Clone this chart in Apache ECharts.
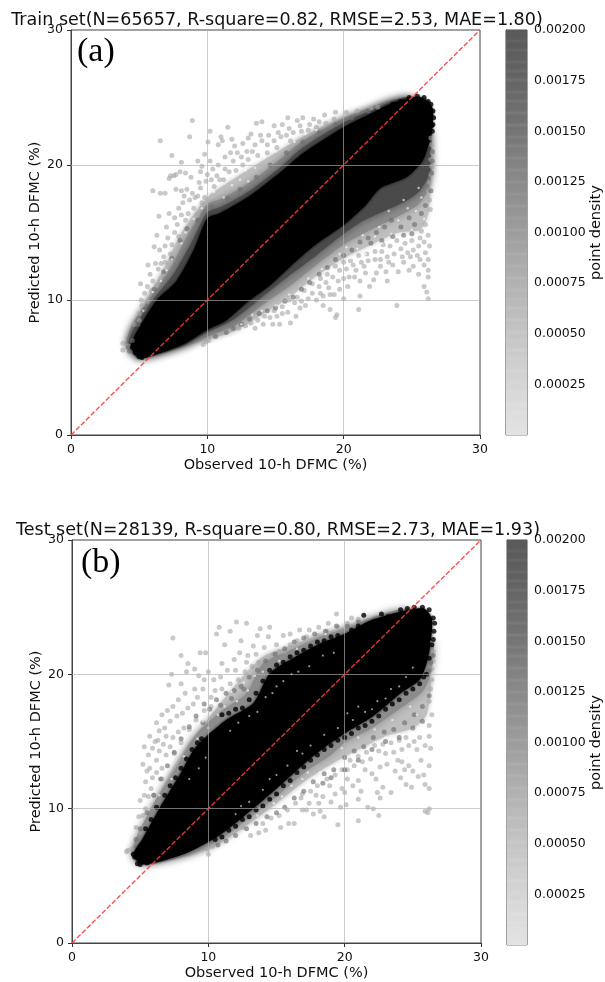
<!DOCTYPE html>
<html><head><meta charset="utf-8">
<style>html,body{margin:0;padding:0;background:#fff}#c{width:605px;height:982px}</style>
<script src="https://cdn.jsdelivr.net/npm/echarts@6/dist/echarts.min.js"></script></head>
<body><div id="c"></div>
<script>
const axisTicks=[0,10,20,30];
const colorbarTicks=[0.00025,0.0005,0.00075,0.001,0.00125,0.0015,0.00175,0.002];
const identityLine=[[0,0],[30,30]];
const colorbarGrays=[226,226,225,224,224,223,222,223,220,220,222,218,217,216,218,214,213,214,212,211,210,213,208,207,206,207,204,203,206,201,200,201,198,197,200,195,194,192,196,190,189,188,192,186,185,186,182,181,185,179,178,177,181,175,173,172,176,170,169,167,172,165,163,162,166,160,158,157,162,155,154,153,157,151,149,148,153,146,145,143,148,141,140,139,144,137,136,135,140,133,131,130,136,128,126,125,131,123,121,127,119,118,116,124,114,113,112,120,111,110,109,116,107,106,112,104,103,102,110,101,99,106,98,97,104,96,95,94,101,93,92,98,91,90,90];

const trainBlack=[[4.4,6.6],[5,5.7],[6,5.9],[8.2,6.7],[10,7.8],[11.4,8.5],[13,9.9],[14.6,11.1],[16.1,12.5],[17.8,14],[20,15.55],[21.5,16.9],[22.7,18.3],[24.6,19.1],[25.75,20.25],[26.1,21.1],[26.45,22.35],[26.55,24.1],[26.1,24.8],[25.4,25.05],[23.6,24.6],[21.96,23.8],[20,22.8],[17.07,20.9],[15.3,19.4],[13.1,17.7],[10.9,16.4],[10,16.05],[9,13.7],[7.7,11.35],[6.3,10],[4.8,7.6]];
const trainDark=[[4.2,6.6],[5,5.7],[8.2,6.6],[10,7.6],[12,8.6],[14,10.2],[16,11.8],[18,13.3],[20,14.9],[21.5,15.9],[23,16.6],[24.5,17.3],[25.6,18.1],[26.3,19.4],[26.4,20.8],[26.4,22.5],[25,25],[23.6,24.75],[22,24.05],[20,23.15],[17,21.3],[15.3,19.8],[13.1,18.1],[11,16.9],[10,16.5],[8.8,14.2],[7.5,11.9],[6,10],[4.6,7.9]];
const trainMid=[[4.1,6.6],[5,5.7],[8.2,6.5],[10,7.3],[12,8.1],[14,9.6],[16,11],[18,12.6],[20,14.1],[22,15.2],[24,16.2],[25.5,17.1],[26.3,18.4],[26.4,20.8],[25,24.8],[23.6,24.85],[22,24.25],[20,23.45],[17,21.8],[15.3,20.4],[13.1,18.7],[11,17.5],[10,17.1],[8.5,14.7],[7.2,12.2],[5.7,10],[4.4,8]];
const trainLight=[[4,6.6],[5,5.7],[8.2,6.5],[10,7.05],[12,7.7],[14,8.9],[16,10.2],[18,11.8],[20,13.1],[22,14.1],[24,15],[25.6,15.2],[26.2,16.4],[26.3,19],[25,24.8],[23.6,24.85],[22,24.3],[20,23.55],[17,22.1],[15,20.9],[12,19],[10,17.6],[8,14.8],[7,12.7],[5.5,9.9],[4.2,7.4]];
const trainLightDots=[[8.9,23.3],[6.55,21.8],[8.7,22.1],[11.5,22.8],[10.2,22.5],[7.4,20.7],[8.1,20.2],[9.8,20.8],[10.05,21.7],[6,18.1],[6.55,17.9],[6.9,17.9],[7.3,19.2],[7.55,19.2],[7.7,19.3],[7.2,19],[8,19.5],[8.4,19.4],[8.8,19.1],[9.5,19.5],[9.6,19.9],[9.3,20.3],[10.2,20.3],[7.7,18.2],[8.1,18.1],[8.5,18.2],[8.9,17.9],[9.3,17.7],[9.5,18.3],[9.9,18.8],[10.7,19.2],[11.3,19.7],[11.9,20.3],[10.8,21.5],[11.1,21.8],[11,22.1],[11.8,21.9],[12,21.4],[12.6,21.6],[13,22],[13.2,22.3],[13.6,23.1],[14,23.2],[14.9,22.9],[15.5,23],[15.9,23.5],[16.6,23.3],[17,23.5],[17.8,23.4],[18.6,23.7],[19.4,23.9],[20.2,23.9],[21,24],[22,24.2],[22.5,24.3],[12.5,20.6],[13.3,21],[14,21.8],[14.5,22.2],[15.2,22.4],[16,22.7],[16.8,22.9],[17.5,23],[18.2,23.2],[6.45,16.2],[6.3,14.8],[7,15.4],[6.1,13.95],[6.5,13.7],[5.65,12.6],[6.6,12.7],[5.8,11.9],[5.1,11.2],[5.15,10],[5,9],[4.65,8.2],[3.8,6.8],[3.8,6.3],[4.2,6.6],[7.2,16.4],[7.6,16.1],[7.9,16.8],[8.2,17.2],[7.1,14.6],[7.6,15],[7.8,15.6],[8.6,16.4],[9,16.8],[9.3,16.3],[6.9,14],[6.4,12.3],[6,11.4],[5.6,11],[5.4,10.5],[5.2,9.6],[9.6,17.2],[9.8,17.6],[10.5,18.4],[11.2,18.9],[12.1,19.6],[13,20.4],
[8.3,17.7],[8.7,17.4],[9.1,17.6],[9.4,18.7],[10,19.3],[10.4,19.7],[10.8,20],[11.3,20.6],[11.7,20.9],[12.2,20.9],[12.9,21],[13.5,21.5],[13.9,22.2],[14.4,21.5],[14.9,21.8],[15.4,22.1],[15.8,22.2],[16.3,22.4],[16.9,22.5],[17.4,22.6],[18,22.8],[18.7,23.1],[19.3,23.4],[8.1,16.3],[8.4,15.9],[7.4,14.1],[7.9,14.7],[7.3,13.4],[6.8,13.2],[6.2,12.7],[6.9,12.8],[6.3,11.1],[5.9,10.7],[5.6,9.9],[5,8.5],[10.3,18.9],[10.9,18.9],[11.6,19.5],[12.6,20],[13.7,20.7],[14.4,20.9],[15.1,21.3],[16.1,21.8],
[19.5,8.9],[19.4,8.7],[21.1,9.3],[23.9,9.6],[26.2,10.1],[26.1,10.6],[25.9,11],[26.2,11.7],[25.5,11.9],[23.2,11.4],[21.9,11],[21.2,10.3],[20,10.1],[19,9.3],[18.5,9.6],[16.5,8.8],[16.1,8.3],[15.3,8.2],[14.8,8.2],[14.1,8.2],[13.5,7.9],[12.3,7.9],[9.9,6.9],[9.7,6.7],[10.1,7],[26.2,12.2],[25.9,12.6],[26.2,13],[25.6,13],[25.1,12.5],[24.8,12.2],[24.4,12.8],[24,12.1],[23.6,12.6],[23.1,12.1],[22.7,12.5],[22.4,12],[22.2,11.5],[21.6,12],[21.2,11.4],[20.8,11.7],[20.3,11],[20,11.6],[19.7,10.8],[19.3,10.4],[18.9,10.9],[18.5,10.3],[18,10],[17.7,10.5],[17.2,9.6],[16.8,9.4],[16.4,9.8],[15.9,9.1],[15.5,9],[15.1,8.8],[14.6,8.7],[14.2,8.8],[13.7,8.5],[13.2,8.3],[12.8,8.1],[26.3,14],[26.2,14.8],[26,15.6],[25.9,14.3],[25.5,14],[25.1,13.7],[24.7,13.5],[24.2,13.8],[23.7,13.4],[23.2,13.2],[22.8,13.6],[22.3,13],[21.8,12.9],[21.3,12.8],[20.7,12.6],[20.2,12.3],[19.7,12.2],[19.2,11.7],[18.7,11.3],[18.2,11],[26.35,16.7],[26.3,17.4],[26.2,18.1],[26.3,18.7],[26.4,19.3],[26.45,19.9],[26.4,20.4],[26.5,20.9],[26.45,21.5],[26.4,22],
[25.6,14.6],[25,14.4],[24.5,14.2],[23.9,14.4],[23.4,14],[22.9,14.1],[22.3,13.6],[21.7,13.4],[21.1,13.3],[20.5,12.9],[20,12.8],[19.4,12.5],[18.8,11.9],[18.3,11.6],[17.7,11.2],[17.1,10.7],[16.6,10.2],[16,10],[15.5,9.5],[14.9,9.2],[24.9,13.2],[24.3,13.2],[23.3,12.8],[22.7,13],[21.5,12.5],[20.9,12.2],[20.4,11.7],[19.6,11.4],[19,10.4],[18.3,10.5],[17.4,10.1],[16.9,9.9],[25.4,13.3],[26,13.5],[25.7,15.1]];
const trainMidDots=[[23,15.4],[23.5,15.9],[24.2,15.4],[24.8,16.1],[25.2,15.6],[25.7,16.4],[26,17],[22.4,15],[21.8,14.6],[21.2,14.3],[20.6,13.7],[20,13.3],[19.4,13],[18.8,12.4],[18.2,11.9],[17.5,11.3],[16.9,10.8],[16.3,10.2],[15.7,9.9],[15,9.4],[14.4,9.2],[13.8,9],[13.1,8.6],[12.5,8.2],[11.9,7.9],[11.4,7.6],[10.6,7.3],[25,14.9],[24.4,14.8],[23.6,14.7],[22.8,14.4],[22,14.2],[26.4,18.1],[26.45,19.4],[26.5,20.3],[26.5,21],[4.3,6.2],[4.2,6.5],[4.5,7],[4.9,8.2],[5.4,9.3],[6.1,10.8],[6.8,12.1],[7.4,13.1],[8,14.4],[8.5,15.3],[9.3,15.9],[10.3,16.9],[11.5,17.5],[12.4,18.2],[13.6,19.1],[14.6,20],[15.8,20.9],[17,21.7],[18.2,22.4],[19.4,23],[20.6,23.5],[21.8,24]];
const trainBlackDots=[[22.9,24.1],[23.6,24.5],[24.2,24.7],[24.8,25],[25.4,25.1],[25.9,25],[26.2,24.7],[26.4,24.5],[26.55,24],[26.6,23.5],[26.55,23],[26.5,22.5],[26.45,22.9],[26.3,24.2],[5,5.8],[5.2,5.75],[5.5,5.9],[4.75,6.1],[4.5,6.5]];
const trainOuterGaps=[[10.5,18],[11.2,17.6],[11.8,18.5],[12.4,18.9],[12.8,19.6],[13.5,19.8],[14.2,20.6],[15,21],[15.6,21.8],[16.4,21.7],[17.2,22.3],[18,22.6],[9.6,16.8],[9,16],[8.4,15],[8.1,14.2],[7.4,13],[7,12.2],[6.6,11.4],[6,10.6],[5.3,9.2],[13,18.8],[24,15.9],[23.5,14.9],[25,15.2],[25.3,16.6],[24.6,14.5],[22.8,14.2],[22.3,14.7],[21.6,13.4],[21,13.8],[20.5,13.1],[19.7,13.4],[19,12.1],[18.4,12.3],[17.4,11.6],[16.6,10.5],[16,10.4],[15,9.6],[14,9.2],[13.3,8.9],[12.5,8.2],[25.7,17.6],[25.9,16],[24.4,17.4],[23.3,16.6],[22.6,15.4],[21.4,14.8],[20.2,13.9],[25.5,18.3],[24.7,16.8]];
const trainInnerGaps=[];

const testBlack=[[4.5,6.6],[5,5.9],[5.95,5.95],[8.4,6.7],[10.8,8],[13.05,9.8],[15,11.5],[17.2,13.5],[18.7,14.7],[20,15.6],[22.1,16.9],[24.1,18.6],[25.5,19.6],[26,20.8],[26.3,22.3],[26.4,24.15],[25.8,24.9],[24.1,24.65],[21.9,24],[20,23],[18.2,22.3],[16.2,21.2],[14.5,20.07],[13.3,17.85],[11.3,16.6],[9.1,14.6],[7.9,12.5],[6.4,10],[5.2,7.8]];
const testMid=[[4.4,6.6],[5,5.8],[8.4,6.5],[10.8,7.6],[13,9.3],[15,10.9],[17.2,12.8],[19,14],[20,14.9],[22,16],[24,17.4],[25.7,18.7],[26.3,20],[26.5,22.3],[25,24.7],[24,24.8],[22,24.2],[20,23.4],[18.2,22.8],[16,21.8],[14,20.8],[12.8,18.6],[11,17.3],[9,15.4],[7.6,13],[6,10.4],[4.8,8]];
const testLight=[[4.3,6.6],[5,5.8],[8.4,6.4],[10.5,7.2],[13,8.9],[15,10.4],[17,12],[19,13.3],[21,14.4],[23,15.4],[25,16],[26,17],[26.3,19.5],[25,24.7],[24,24.8],[22,24.3],[20,23.55],[18,22.9],[16,22.1],[14,21.3],[12,19.2],[10,16.7],[8.5,14.8],[7,12.3],[5.5,9.4],[4.5,7.4]];
const testLightDots=[[7.4,22.7],[12.06,23.9],[10.8,23.5],[10.6,23],[11.6,23.2],[12.8,23.8],[13.8,23.4],[14.5,23.5],[8,21.4],[9.4,21.6],[9.8,21.6],[8.5,20.8],[7.1,19.2],[8,19.3],[7.3,20],[9,20.4],[8.4,20.2],[9.3,19.9],[10,20.2],[10.4,19.6],[11,20.8],[11.9,21.1],[12.3,21.6],[12.9,21.4],[13.3,22.1],[12.4,22.5],[11.2,22.2],[13.6,22.9],[14.4,22.8],[15,22.2],[15.5,22.9],[16,23],[16.7,23.3],[17.4,23.3],[18.1,23.5],[18.8,23.8],[19.4,24.5],[20.5,24.2],[21,24.1],[15.2,21.7],[16,22.2],[10.5,18.8],[10.2,18.3],[11,18.9],[11.6,19.3],[12.2,19.6],[12.7,20.2],[13.2,20.6],[13.7,20.9],[9.6,18.9],[9.2,18.3],[8.9,17.8],[8.5,17.5],[8.1,17.1],[7.7,16.9],[7.2,16.5],[6.8,16],[6.4,15.8],[6.9,15.4],[7.4,15.3],[7.8,15.7],[8.2,16],[6.1,15],[5.6,14],[6.2,13.6],[5.7,13],[6.4,14.3],[5.4,12],[5.8,11.5],[5.3,11],[5.9,12.3],[5,10.6],[5.4,10],[4.9,9.4],[4.7,8.6],[5,8.2],[4.1,6.9],[4.4,7],[4,6.8],[6.6,13],[6.9,14],[7.2,14.6],[5.5,12.8],[5.2,13.3],[9.9,7],[10,6.6],[10.3,7.2],[19.5,8.8],[21,9.1],[22.5,9.5],[26.1,9.7],[26.2,10],[25.9,9.8],[22.1,10],[21.7,10.1],[21,10.7],[20.1,10.3],[19.7,10.1],[18.5,9.4],[18.2,9.8],[17.7,9.6],[16.9,9.9],[16.3,8.9],[15.9,8.9],[15.3,8.6],[14.2,8.4],[13.7,8.2],[13.1,8],[12.5,8.6],[22.4,11.2],[22.6,10.8],[22.8,11.6],[23.4,11.2],[24.1,12.3],[24.5,11.8],[24.9,11.6],[25.4,12.4],[25.9,11.8],[26.2,11.5],[25.8,12.5],[26.2,13.2],[25.6,13.6],[24.7,13.2],[24.2,13.5],[23.7,12.8],[23.1,13.3],[22.6,13.1],[22,12.6],[21.5,12.9],[21,12.1],[20.6,11.7],[20.2,12.2],[19.8,11.5],[19.3,11.1],[18.9,11.7],[18.4,10.9],[17.9,11],[17.4,10.4],[16.8,10.8],[26.3,14.5],[26.2,15.4],[26.2,16.2],[26.4,17],[26.2,18],[26.3,18.9],[26.4,19.6],[25.9,14.7],[25.3,14.4],[24.7,14.7],[24.2,14.4],[23.6,14.2],[23,14.1],[22.5,14.3],[21.9,13.7],[21.3,13.5],[20.7,13.2],[20.2,12.9],[26.4,20.4],[26.5,21],[26.5,21.7],[26.45,22.4],
[25.5,15.3],[25.1,15],[24.5,15.3],[24,15.1],[23.4,14.9],[22.8,14.8],[22.2,14.7],[21.6,14.2],[21,13.9],[20.4,13.6],[19.8,12.9],[19.3,12.5],[18.7,12.2],[18,11.7],[17.5,11.3],[16.9,11.1],[16.4,10.4],[15.8,9.9],[15.2,9.5],[14.6,9.3],[14,8.9],[24.4,12.9],[23.9,13.6],[25,12.8],[22.3,12.2],[21.2,11.3],[20,11.2],[19,10.5],[18.1,10.4],[17.2,9.9],[9,18.9],[8.3,18.6],[7.8,18.1],[7.4,17.6],[7,17.3],[6.6,17],[6.2,16.4],[5.7,15.4],[5.3,14.6],[9.7,19.6],[10.9,19.8],[11.4,20.3],[12,20.3],[12.8,20.9],[13.5,21.5],[14.1,22],[14.8,21.5],[15.6,21.7],[16.5,22.5],[17.2,22.8],[18,22.9],[18.7,23.2],[19.5,23.5],[20.2,23.8],[6.3,15.1],[5.9,14.5],[6.7,14.8],[6.2,12.7],[6.6,12.2],[5.6,10.9],[5.2,9.5],[6,11],[7.5,14.1],[8,14.9],[8.6,15.9],[9.1,16.6],[9.7,17.3],[10.2,17.6]];
const testMidDots=[[10.6,18.1],[11.3,18.6],[11.9,18.8],[12.4,19.1],[13,19.8],[13.6,20.3],[14.2,21],[14.9,21.5],[15.6,21.9],[16.3,22.4],[17,22.7],[17.8,23],[18.6,23.2],[19.4,23.6],[20.2,23.6],[21,23.9],[9.7,17.8],[9.1,16.9],[8.6,16.1],[8,15.2],[7.5,14.2],[7,13.2],[6.5,12.2],[6,11],[5.5,9.7],[5,8.5],[4.7,7.7],[9.6,16.4],[10.1,17.4],[10.9,17.7],[11.7,18.2],[12.6,18.9],[18.5,12.6],[19.2,12.9],[20,13.8],[20.7,14.3],[21.4,14.6],[22.1,15.3],[22.9,15.7],[23.6,15.9],[24.4,16.4],[25.1,17],[25.7,17.6],[26.2,18.4],[17.7,12],[17,11.3],[16.3,10.8],[15.6,10.1],[15,9.7],[14.3,9.4],[13.5,8.9],[12.8,8.5],[12,8],[11.3,7.6],[10.7,7.3],[18.4,11.9],[19,12.3],[20,12.9],[21,13.6],[22,14.4],[23,15],[24,15.3],[25,16],[25.7,16.5],[26.3,20.9],[26.2,20.3],[26.5,21.4]];
const testBlackDots=[[21.4,24.4],[22.7,24.5],[23.2,24.3],[24.1,24.8],[24.6,24.9],[25.1,25],[25.7,25],[26.2,24.8],[26.5,24.2],[26.6,23.8],[26.55,23.2],[26.5,22.6],[26.4,22.2],[4.8,5.9],[5,5.85],[4.6,6.4],[4.5,6.6],[5.5,5.95],[11,17],[11.5,17.1],[12,17.4],[12.5,17.5],[13,18.1],[13.5,18.6],[14,19.5],[14.5,20.3],[15,20.7],[15.5,20.9],[16,21.3],[16.5,21.6],[17,21.8],[17.5,22.1],[18,22.4],[18.5,22.5],[19,22.8],[19.5,22.9],[20.5,23.3],[21,23.6],[9.5,15.2],[9.2,14.9],[8.8,14.4],[8.4,13.7],[8,13],[7.6,12.3],[7.2,11.7],[6.8,11],[6.2,10.1],[5.8,9.2],[5.4,8.5],[19,14.7],[19.5,15.1],[20,15.3],[20.5,15.6],[21,16],[21.5,16.2],[22,16.5],[22.5,16.9],[23,17.4],[23.5,17.8],[24,18.1],[24.5,18.6],[25,18.9],[25.5,19.3],[18.5,14.4],[18,14],[17.5,13.6],[17,13.1],[16.5,12.7],[16,12.1],[15.5,11.7],[15,11.1],[14.5,10.7],[14,10.2],[13.5,9.9],[13,9.4],[12.5,9.2],[12,8.7],[11.5,8.4],[11,7.9],[10.5,7.7],[26,20],[26.2,21.2],[25.8,19.8]];
const testOuterGaps=[[14,20.2],[12.9,18.8],[12.1,18],[11.2,17.6],[10,16],[9.2,15.2],[8.2,13.9],[7.3,12.2],[6.4,11],[15.2,21],[16.5,21.9],[18.6,23],[19.8,14.5],[21,15.3],[22.2,15.9],[23.5,16.6],[24.8,17.6],[17.3,12.7],[16.1,11.7],[14.8,10.4],[13.6,9.5],[25.3,17],[23,15.3],[20.5,14],[18.2,12.7],[16.9,12.2],[15.4,10.9],[12.6,19.4],[11.7,18.7],[13.4,19.9],[10.7,17],[9.6,16.5]];
const testInnerGaps=[[15,19.1],[15.5,19.5],[14.7,18.6],[14.2,18.3],[13.6,17.2],[13,16.9],[12.2,16.4],[11.6,15.8],[16.6,20.2],[17.4,20.6],[16.1,20],[18.4,21.4],[19.2,21.6],[21,17.6],[21.5,17.2],[22,17.4],[22.4,18],[23,18.2],[23.4,18.9],[24,19.1],[24.5,19.8],[25,20.5],[20.6,16.6],[20.2,17.1],[19.5,16],[18.5,15.5],[17.5,14.7],[16.5,14.3],[16.9,14.1],[15.8,13.2],[15,12.5],[14.5,12.2],[14,11.4],[13,10.5],[12.4,10.2],[12,9.6],[9.8,13.8],[9.3,13],[8.6,12.2]];

const GRIDS=[{left:71,top:30,width:409,height:405},{left:72,top:540,width:409,height:405}];
const BARS=[{left:506,top:30,width:21,height:405},{left:507,top:540,width:21,height:405}];
const FONT='DejaVu Sans';
const polygon=(g,pts,color,blur)=>({type:'custom',xAxisIndex:g,yAxisIndex:g,silent:true,clip:true,data:pts,animation:false,
  renderItem:(p,api)=>p.dataIndex!==0?null:({type:'polygon',shape:{points:pts.map(q=>api.coord(q)),smooth:0.25},style:{fill:color,shadowBlur:blur,shadowColor:color}})});
const dots=(g,pts,color,size)=>({type:'scatter',xAxisIndex:g,yAxisIndex:g,silent:true,data:pts,symbolSize:size,animation:false,itemStyle:{color:color}});
const panel=(g,s)=>[
  polygon(g,s.light,'#bfbfbf',5),
  dots(g,s.lightDots,'rgba(165,165,165,.75)',5),
  polygon(g,s.mid,'#8c8c8c',8),
  dots(g,s.midDots,'rgba(110,110,110,.8)',5),
  s.dark?polygon(g,s.dark,'#4a4a4a',8):null,
  dots(g,s.outerGaps,'rgba(255,255,255,.75)',2.5),
  polygon(g,s.black,'#000',3),
  dots(g,s.blackDots,'#000',5),
  dots(g,s.innerGaps,'rgba(235,235,235,.8)',2.2),
  {type:'line',xAxisIndex:g,yAxisIndex:g,silent:true,z:5,data:identityLine,symbol:'none',animation:false,
   lineStyle:{color:'rgba(255,60,60,.9)',width:1.4,type:[5,2]},
   markLine:{silent:true,symbol:'none',animation:false,label:{show:false},z:4,lineStyle:{color:'rgba(176,176,176,.65)',width:1,type:'solid'},
     data:axisTicks.slice(1,3).flatMap(v=>[{xAxis:v},{yAxis:v}])}}
].filter(Boolean);
const stripes=g=>({type:'custom',xAxisIndex:g+2,yAxisIndex:g+2,silent:true,animation:false,
  data:colorbarGrays.map((v,i)=>[i,v]),
  renderItem:(p,api)=>{
    const n=colorbarGrays.length, i=p.dataIndex, lo=api.coord([0,i/n*0.002]), hi=api.coord([1,(i+1)/n*0.002]);
    const v=colorbarGrays[i];
    return {type:'rect',shape:{x:lo[0],y:hi[1],width:hi[0]-lo[0],height:lo[1]-hi[1]+.5},style:{fill:`rgb(${v},${v},${v})`}};
  }});
const xAxisFor=g=>({gridIndex:g,type:'value',min:0,max:30,interval:10,name:'Observed 10-h DFMC (%)',nameLocation:'middle',nameGap:23,nameMoveOverlap:false,
  nameTextStyle:{fontFamily:FONT,fontSize:14.5,color:'#111'},splitLine:{show:false},
  axisLine:{lineStyle:{color:'#444'}},axisTick:{length:4,lineStyle:{color:'#333'}},axisLabel:{fontFamily:FONT,fontSize:12.5,color:'#111',margin:8,showMaxLabel:true,showMinLabel:true}});
const yAxisFor=g=>({gridIndex:g,type:'value',min:0,max:30,interval:10,name:'Predicted 10-h DFMC (%)',nameLocation:'middle',nameGap:28,nameMoveOverlap:false,
  nameTextStyle:{fontFamily:FONT,fontSize:14.5,color:'#111'},splitLine:{show:false},
  axisLine:{lineStyle:{color:'#444'}},axisTick:{length:4,lineStyle:{color:'#333'}},axisLabel:{fontFamily:FONT,fontSize:12.5,color:'#111',margin:8}});
const barX=g=>({gridIndex:g,type:'value',min:0,max:1,show:false});
const barY=g=>({gridIndex:g,type:'value',position:'right',min:0,max:0.002,interval:0.00025,name:'point density',nameLocation:'middle',nameRotate:90,nameGap:62,nameMoveOverlap:false,
  nameTextStyle:{fontFamily:FONT,fontSize:14.5,color:'#111'},splitLine:{show:false},
  axisLine:{show:true,lineStyle:{color:'#444'}},axisTick:{show:true,length:4,lineStyle:{color:'#333'},customValues:colorbarTicks},
  axisLabel:{fontFamily:FONT,fontSize:12.5,color:'#111',margin:7,customValues:colorbarTicks,formatter:v=>v.toFixed(5)}});
const titleText=(text,x,y)=>({text,left:x,top:y,textAlign:'center',textStyle:{fontFamily:FONT,fontSize:17.55,fontWeight:'normal',color:'#111'}});
const tagText=(text,x,y)=>({text,left:x,top:y,textStyle:{fontFamily:'Liberation Serif',fontSize:34,fontWeight:'normal',color:'#000'}});
const chart=echarts.init(document.getElementById('c'),null,{renderer:'canvas'});
chart.setOption({animation:false,backgroundColor:'#fff',
  title:[titleText('Train set(N=65657, R-square=0.82, RMSE=2.53, MAE=1.80)',272,6),
         titleText('Test set(N=28139, R-square=0.80, RMSE=2.73, MAE=1.93)',273,516),
         tagText('(a)',72,30),tagText('(b)',76,541)],
  grid:[...GRIDS,...BARS].map(g=>({...g,show:true,borderColor:'#444',borderWidth:1,backgroundColor:'transparent',containLabel:false})),
  xAxis:[xAxisFor(0),xAxisFor(1),barX(2),barX(3)],
  yAxis:[yAxisFor(0),yAxisFor(1),barY(2),barY(3)],
  series:[
    ...panel(0,{light:trainLight,lightDots:trainLightDots,mid:trainMid,midDots:trainMidDots,dark:trainDark,black:trainBlack,blackDots:trainBlackDots,outerGaps:trainOuterGaps,innerGaps:trainInnerGaps}),
    ...panel(1,{light:testLight,lightDots:testLightDots,mid:testMid,midDots:testMidDots,black:testBlack,blackDots:testBlackDots,outerGaps:testOuterGaps,innerGaps:testInnerGaps}),
    stripes(0),stripes(1)
  ]});
</script></body></html>
